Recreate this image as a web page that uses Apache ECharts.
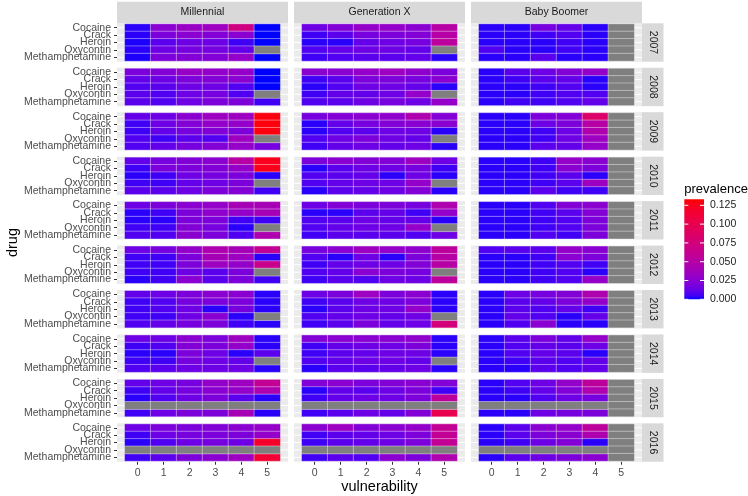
<!DOCTYPE html>
<html><head><meta charset="utf-8">
<script src="https://cdn.jsdelivr.net/npm/echarts@6/dist/echarts.min.js"></script>
<style>html,body{margin:0;padding:0;background:#fff}#c{width:748px;height:496px}</style>
</head><body><div id="c"></div>
<script>
// ---------------- data ----------------
const generations = ['Millennial', 'Generation X', 'Baby Boomer'];
const years = ['2007','2008','2009','2010','2011','2012','2013','2014','2015','2016'];
const drugs = ['Cocaine','Crack','Heroin','Oxycontin','Methamphetamine'];
const vulnerability = ['0','1','2','3','4','5'];
const legendTicks = [0, 0.025, 0.05, 0.075, 0.1, 0.125];
const legendLabels = ['0.000','0.025','0.050','0.075','0.100','0.125'];
const prevalenceLimits = [0, 0.133];
const N = null;

// each year: rows = drugs (Cocaine..Methamphetamine), cols = vulnerability 0..5
const millennial = [
 [[0.003,0.025,0.032,0.035,0.070,0.000],[0.003,0.020,0.025,0.022,0.025,0.000],[0.002,0.010,0.015,0.015,0.005,0.000],[0.003,0.015,0.018,0.018,0.012,N],[0.002,0.020,0.022,0.022,0.030,0.000]],
 [[0.020,0.022,0.032,0.030,0.030,0.000],[0.012,0.015,0.020,0.022,0.025,0.000],[0.008,0.010,0.015,0.015,0.008,0.000],[0.010,0.008,0.015,0.018,0.008,N],[0.010,0.008,0.015,0.020,0.020,0.005]],
 [[0.012,0.015,0.025,0.035,0.035,0.130],[0.005,0.015,0.022,0.030,0.030,0.130],[0.005,0.012,0.018,0.022,0.020,0.130],[0.008,0.005,0.010,0.008,0.035,N],[0.008,0.012,0.018,0.022,0.030,0.018]],
 [[0.012,0.018,0.022,0.025,0.050,0.125],[0.005,0.020,0.020,0.022,0.030,0.125],[0.003,0.005,0.015,0.018,0.020,0.003],[0.005,0.005,0.012,0.015,0.020,N],[0.010,0.010,0.015,0.020,0.022,0.005]],
 [[0.015,0.020,0.025,0.030,0.040,0.040],[0.003,0.005,0.020,0.028,0.030,0.040],[0.003,0.003,0.020,0.020,0.005,0.005],[0.005,0.005,0.022,0.018,0.003,N],[0.008,0.008,0.025,0.020,0.008,0.045]],
 [[0.015,0.018,0.030,0.045,0.040,0.060],[0.005,0.005,0.020,0.040,0.035,0.003],[0.005,0.005,0.020,0.035,0.030,0.065],[0.005,0.005,0.015,0.010,0.020,N],[0.003,0.005,0.025,0.010,0.020,0.005]],
 [[0.012,0.015,0.020,0.025,0.025,0.003],[0.005,0.008,0.018,0.020,0.020,0.003],[0.005,0.008,0.015,0.003,0.018,0.003],[0.005,0.005,0.015,0.025,0.003,N],[0.008,0.012,0.018,0.020,0.005,0.003]],
 [[0.015,0.015,0.025,0.020,0.035,0.003],[0.005,0.008,0.022,0.020,0.030,0.003],[0.003,0.003,0.020,0.015,0.003,0.010],[0.005,0.005,0.018,0.015,0.012,N],[0.008,0.010,0.015,0.015,0.015,0.003]],
 [[0.012,0.015,0.018,0.030,0.035,0.060],[0.005,0.012,0.018,0.025,0.030,0.045],[0.003,0.008,0.015,0.020,0.010,0.003],[N,N,N,N,N,N],[0.005,0.015,0.020,0.020,0.040,0.003]],
 [[0.015,0.020,0.020,0.022,0.025,0.030],[0.005,0.015,0.018,0.020,0.020,0.030],[0.003,0.008,0.015,0.018,0.015,0.120],[N,N,N,N,N,N],[0.005,0.010,0.020,0.025,0.035,0.115]]
];
const generationX = [
 [[0.015,0.022,0.030,0.030,0.025,0.050],[0.005,0.010,0.018,0.020,0.022,0.050],[0.003,0.003,0.012,0.015,0.018,0.055],[0.008,0.012,0.015,0.015,0.012,N],[0.005,0.008,0.010,0.010,0.012,0.003]],
 [[0.025,0.025,0.030,0.035,0.028,0.020],[0.005,0.010,0.020,0.020,0.018,0.025],[0.003,0.008,0.015,0.015,0.012,0.003],[0.005,0.012,0.012,0.015,0.030,N],[0.008,0.010,0.015,0.018,0.015,0.030]],
 [[0.018,0.022,0.025,0.028,0.045,0.022],[0.003,0.012,0.018,0.022,0.025,0.025],[0.003,0.008,0.010,0.015,0.015,0.003],[0.008,0.015,0.020,0.015,0.012,N],[0.005,0.012,0.015,0.012,0.015,0.003]],
 [[0.020,0.025,0.022,0.022,0.035,0.015],[0.003,0.010,0.015,0.015,0.018,0.005],[0.008,0.010,0.012,0.003,0.015,0.003],[0.008,0.012,0.015,0.015,0.030,N],[0.003,0.010,0.012,0.015,0.022,0.003]],
 [[0.015,0.022,0.020,0.020,0.018,0.045],[0.003,0.003,0.010,0.012,0.005,0.030],[0.008,0.010,0.015,0.012,0.012,0.003],[0.008,0.012,0.015,0.015,0.030,N],[0.005,0.010,0.010,0.010,0.008,0.015]],
 [[0.018,0.025,0.035,0.030,0.028,0.055],[0.008,0.003,0.015,0.003,0.020,0.050],[0.005,0.012,0.015,0.015,0.022,0.050],[0.008,0.012,0.025,0.020,0.018,N],[0.005,0.010,0.008,0.015,0.015,0.055]],
 [[0.015,0.020,0.035,0.020,0.025,0.003],[0.005,0.010,0.015,0.015,0.020,0.003],[0.003,0.010,0.015,0.015,0.030,0.003],[0.008,0.012,0.015,0.012,0.015,N],[0.005,0.010,0.020,0.012,0.015,0.075]],
 [[0.022,0.025,0.025,0.025,0.028,0.003],[0.005,0.012,0.015,0.015,0.020,0.003],[0.005,0.010,0.012,0.015,0.015,0.003],[0.008,0.012,0.015,0.015,0.012,N],[0.003,0.010,0.010,0.012,0.015,0.003]],
 [[0.022,0.025,0.020,0.022,0.025,0.022],[0.003,0.012,0.010,0.015,0.020,0.005],[0.005,0.012,0.015,0.015,0.020,0.055],[N,N,N,N,N,N],[0.005,0.010,0.015,0.012,0.022,0.100]],
 [[0.025,0.035,0.022,0.025,0.030,0.060],[0.005,0.010,0.012,0.015,0.020,0.060],[0.005,0.010,0.012,0.015,0.020,0.060],[N,N,N,N,N,N],[0.005,0.010,0.008,0.025,0.020,0.045]]
];
const babyBoomer = [
 [[0.003,0.003,0.018,0.012,0.003,N],[0.003,0.003,0.005,0.008,0.003,N],[0.003,0.003,0.003,0.005,0.003,N],[0.008,0.003,0.003,0.005,0.003,N],[0.003,0.003,0.010,0.003,0.003,N]],
 [[0.003,0.010,0.015,0.022,0.030,N],[0.003,0.005,0.010,0.012,0.003,N],[0.003,0.003,0.005,0.008,0.003,N],[0.003,0.003,0.005,0.008,0.008,N],[0.003,0.005,0.005,0.008,0.012,N]],
 [[0.003,0.003,0.020,0.022,0.085,N],[0.003,0.003,0.015,0.020,0.050,N],[0.003,0.003,0.005,0.015,0.045,N],[0.003,0.003,0.005,0.015,0.035,N],[0.003,0.003,0.010,0.012,0.030,N]],
 [[0.003,0.003,0.005,0.030,0.025,N],[0.003,0.003,0.005,0.025,0.020,N],[0.003,0.003,0.005,0.010,0.003,N],[0.003,0.003,0.005,0.010,0.035,N],[0.003,0.003,0.010,0.005,0.005,N]],
 [[0.003,0.003,0.008,0.022,0.025,N],[0.003,0.003,0.005,0.010,0.022,N],[0.003,0.003,0.005,0.008,0.020,N],[0.003,0.003,0.005,0.008,0.020,N],[0.003,0.003,0.008,0.005,0.020,N]],
 [[0.008,0.010,0.010,0.030,0.025,N],[0.003,0.003,0.005,0.025,0.020,N],[0.003,0.003,0.005,0.008,0.005,N],[0.003,0.003,0.005,0.008,0.003,N],[0.003,0.003,0.005,0.008,0.030,N]],
 [[0.003,0.015,0.018,0.022,0.045,N],[0.003,0.010,0.012,0.020,0.030,N],[0.003,0.010,0.008,0.012,0.005,N],[0.003,0.012,0.008,0.003,0.012,N],[0.003,0.008,0.025,0.003,0.003,N]],
 [[0.003,0.010,0.020,0.012,0.030,N],[0.003,0.008,0.012,0.010,0.015,N],[0.003,0.008,0.012,0.010,0.003,N],[0.003,0.005,0.010,0.008,0.012,N],[0.003,0.003,0.010,0.008,0.012,N]],
 [[0.003,0.008,0.015,0.030,0.055,N],[0.003,0.005,0.012,0.022,0.045,N],[0.003,0.003,0.008,0.015,0.018,N],[N,N,N,N,N,N],[0.003,0.003,0.015,0.018,0.020,N]],
 [[0.003,0.010,0.025,0.030,0.055,N],[0.003,0.010,0.020,0.025,0.045,N],[0.003,0.005,0.015,0.022,0.003,N],[N,N,N,N,N,N],[0.003,0.010,0.015,0.020,0.025,N]]
];
const allData = [millennial, generationX, babyBoomer];

// ---------------- colour ramp (Lab interpolation, like ggplot) ----------------
function hexToRgb(h){return [parseInt(h.slice(1,3),16),parseInt(h.slice(3,5),16),parseInt(h.slice(5,7),16)];}
function toLin(c){c/=255;return c<=0.04045?c/12.92:Math.pow((c+0.055)/1.055,2.4);}
function fromLin(c){c=c<=0.0031308?12.92*c:1.055*Math.pow(c,1/2.4)-0.055;return Math.max(0,Math.min(255,Math.round(c*255)));}
function rgbToLab(rgb){
  const r=toLin(rgb[0]),g=toLin(rgb[1]),b=toLin(rgb[2]);
  let X=(0.4124*r+0.3576*g+0.1805*b)/0.95047,Y=(0.2126*r+0.7152*g+0.0722*b),Z=(0.0193*r+0.1192*g+0.9505*b)/1.08883;
  const f=t=>t>0.008856?Math.cbrt(t):7.787*t+16/116;
  const fx=f(X),fy=f(Y),fz=f(Z);
  return [116*fy-16,500*(fx-fy),200*(fy-fz)];
}
function labToHex(lab){
  const fy=(lab[0]+16)/116,fx=fy+lab[1]/500,fz=fy-lab[2]/200;
  const inv=t=>t*t*t>0.008856?t*t*t:(t-16/116)/7.787;
  const X=inv(fx)*0.95047,Y=inv(fy),Z=inv(fz)*1.08883;
  const r=3.2406*X-1.5372*Y-0.4986*Z,g=-0.9689*X+1.8758*Y+0.0415*Z,b=0.0557*X-0.2040*Y+1.0570*Z;
  return '#'+[r,g,b].map(v=>fromLin(v).toString(16).padStart(2,'0')).join('');
}
const labLow=rgbToLab(hexToRgb('#0000FF')),labHigh=rgbToLab(hexToRgb('#FF0000'));
const rampColors=[];
for(let i=0;i<=30;i++){const t=i/30;rampColors.push(labToHex(labLow.map((v,k)=>v+(labHigh[k]-v)*t)));}

// ---------------- layout ----------------
const FONT='"Liberation Sans", Arial, Helvetica, sans-serif';
const PL=[117,294,471], PW=171, PT0=23.3, PITCH=44.45, PH=38.4;
const XIN=PW*0.3/6.6, YIN=PH*0.1/5.2;
const tileW=(PW-2*XIN)/6, tileH=(PH-2*YIN)/5;

const grids=[],xAxes=[],yAxes=[],series=[],valueIdx=[],naIdx=[],graphics=[];
let gi=0;
for(let g=0;g<3;g++){
  for(let y=0;y<10;y++){
    const left=PL[g], top=PT0+y*PITCH;
    graphics.push({type:'rect',z:0,shape:{x:left,y:top,width:PW,height:PH},style:{fill:'#EBEBEB'},silent:true});
    for(let d=0;d<5;d++){
      const yy=top+YIN+(d+0.5)*tileH;
      graphics.push({type:'line',z:0,shape:{x1:left,y1:yy,x2:left+PW,y2:yy},style:{stroke:'#FFFFFF',lineWidth:1},silent:true});
    }
    for(let k=-1;k<=11;k++){
      const xx=left+XIN+(k*0.5+0.5)*tileW;
      if(xx<left||xx>left+PW) continue;
      graphics.push({type:'line',z:0,shape:{x1:xx,y1:top,x2:xx,y2:top+PH},style:{stroke:'#FFFFFF',lineWidth:k%2===0?1:0.5},silent:true});
    }
    grids.push({left:left+XIN,top:top+YIN,width:PW-2*XIN,height:PH-2*YIN,containLabel:false});
    const bottom=(y===9), leftCol=(g===0);
    xAxes.push({type:'category',gridIndex:gi,data:vulnerability,offset:YIN,
      axisLine:{show:false},splitLine:{show:false},
      axisTick:{show:bottom,alignWithLabel:true,interval:0,length:3,lineStyle:{color:'#333333',width:1}},
      axisLabel:{show:bottom,interval:0,margin:5.5,fontSize:10.5,color:'#4D4D4D',fontFamily:FONT}});
    yAxes.push({type:'category',gridIndex:gi,data:drugs,inverse:true,offset:XIN,
      axisLine:{show:false},splitLine:{show:false},
      axisTick:{show:leftCol,alignWithLabel:true,interval:0,length:3,lineStyle:{color:'#333333',width:1}},
      axisLabel:{show:leftCol,interval:0,margin:6,fontSize:10.5,color:'#4D4D4D',fontFamily:FONT,lineHeight:10}});
    const vals=[],nas=[];
    const tbl=allData[g][y];
    for(let d=0;d<5;d++)for(let v=0;v<6;v++){
      const val=tbl[d][v];
      if(val===null) nas.push([v,d,0]); else vals.push([v,d,val]);
    }
    valueIdx.push(series.length);
    series.push({type:'heatmap',xAxisIndex:gi,yAxisIndex:gi,data:vals,progressive:0,
      itemStyle:{borderColor:'rgba(255,255,255,0.55)',borderWidth:0.7},emphasis:{disabled:true}});
    naIdx.push(series.length);
    series.push({type:'heatmap',xAxisIndex:gi,yAxisIndex:gi,data:nas,progressive:0,
      itemStyle:{borderColor:'rgba(255,255,255,0.55)',borderWidth:0.7},emphasis:{disabled:true}});
    gi++;
  }
}
// top strips
const STRIP_TOP=1.8, STRIP_H=PT0-1.8;
for(let g=0;g<3;g++){
  graphics.push({type:'rect',shape:{x:PL[g],y:STRIP_TOP,width:PW,height:STRIP_H},style:{fill:'#D9D9D9'},silent:true});
  graphics.push({type:'text',x:PL[g]+PW/2,y:STRIP_TOP+STRIP_H/2,style:{text:generations[g],fontSize:10.5,fontFamily:FONT,fill:'#1A1A1A',align:'center',verticalAlign:'middle'},silent:true});
}
// right strips
const RS_X=PL[2]+PW, RS_W=21.5;
for(let y=0;y<10;y++){
  const top=PT0+y*PITCH;
  graphics.push({type:'rect',shape:{x:RS_X,y:top,width:RS_W,height:PH},style:{fill:'#D9D9D9'},silent:true});
  graphics.push({type:'text',x:RS_X+RS_W/2,y:top+PH/2,rotation:-Math.PI/2,style:{text:years[y],fontSize:10.5,fontFamily:FONT,fill:'#1A1A1A',align:'center',verticalAlign:'middle'},silent:true});
}
// axis titles
graphics.push({type:'text',x:(PL[0]+PL[2]+PW)/2,y:487,style:{text:'vulnerability',fontSize:14.5,fontFamily:FONT,fill:'#000',align:'center',verticalAlign:'middle'},silent:true});
graphics.push({type:'text',x:12.5,y:PT0+(9*PITCH+PH)/2,rotation:Math.PI/2,style:{text:'drug',fontSize:14.5,fontFamily:FONT,fill:'#000',align:'center',verticalAlign:'middle'},silent:true});
// legend colourbar
const LB_X=684.3, LB_TOP=199.3, LB_W=19.7, LB_H=100;
const gradStops=rampColors.map((c,i)=>({offset:1-i/(rampColors.length-1),color:c})).reverse();
graphics.push({type:'rect',shape:{x:LB_X,y:LB_TOP,width:LB_W,height:LB_H},
  style:{fill:new echarts.graphic.LinearGradient(0,0,0,1,gradStops)},silent:true});
graphics.push({type:'text',x:LB_X,y:189,style:{text:'prevalence',fontSize:13,fontFamily:FONT,fill:'#000',align:'left',verticalAlign:'middle'},silent:true});
legendTicks.forEach((t,i)=>{
  const yy=LB_TOP+LB_H-(t-prevalenceLimits[0])/(prevalenceLimits[1]-prevalenceLimits[0])*LB_H;
  graphics.push({type:'line',shape:{x1:LB_X,y1:yy,x2:LB_X+4,y2:yy},style:{stroke:'#fff',lineWidth:1},silent:true});
  graphics.push({type:'line',shape:{x1:LB_X+LB_W-4,y1:yy,x2:LB_X+LB_W,y2:yy},style:{stroke:'#fff',lineWidth:1},silent:true});
  graphics.push({type:'text',x:710,y:yy,style:{text:legendLabels[i],fontSize:10.5,fontFamily:FONT,fill:'#1A1A1A',align:'left',verticalAlign:'middle'},silent:true});
});

const chart=echarts.init(document.getElementById('c'),null,{renderer:'canvas',width:748,height:496});
chart.setOption({
  animation:false,
  backgroundColor:'#FFFFFF',
  textStyle:{fontFamily:FONT},
  grid:grids, xAxis:xAxes, yAxis:yAxes,
  visualMap:[
    {type:'continuous',show:false,min:prevalenceLimits[0],max:prevalenceLimits[1],dimension:2,seriesIndex:valueIdx,inRange:{color:rampColors}},
    {type:'continuous',show:false,min:0,max:1,dimension:2,seriesIndex:naIdx,inRange:{color:['#7F7F7F','#7F7F7F']}}
  ],
  graphic:{elements:graphics},
  series:series
});
</script></body></html>
